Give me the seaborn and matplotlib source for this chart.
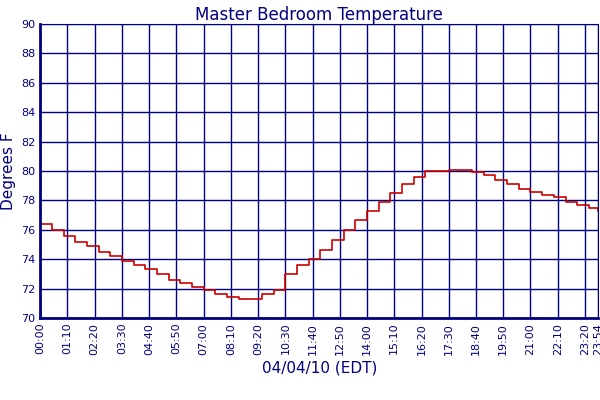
import pandas as pd
import seaborn as sns
import matplotlib.pyplot as plt

# Readings every 30 minutes (minutes after midnight), last one at 23:54
minutes = list(range(0, 1440, 30)) + [1434]
temps = [76.4, 76.0, 75.6, 75.2, 74.9, 74.5, 74.2, 73.9, 73.6, 73.3,
         73.0, 72.6, 72.4, 72.1, 71.9, 71.6, 71.4, 71.3, 71.3, 71.6,
         71.9, 73.0, 73.6, 74.0, 74.6, 75.3, 76.0, 76.7, 77.3, 77.9,
         78.5, 79.1, 79.6, 80.0, 80.0, 80.1, 80.1, 79.9, 79.7, 79.4,
         79.1, 78.8, 78.6, 78.4, 78.2, 77.9, 77.7, 77.5, 77.3]
tick_minutes = list(range(0, 1434, 70)) + [1434]
tick_labels = ["%02d:%02d" % (m // 60, m % 60) for m in tick_minutes]

# last half-hour slot (23:30) is followed by the 23:54 reading
df = pd.DataFrame({"minute": minutes[:len(temps)], "temp": temps})
df = df.sort_values("minute")
navy = "#000080"

fig, ax = plt.subplots(figsize=(6, 4), dpi=100)
sns.lineplot(data=df, x="minute", y="temp", ax=ax, color="#cc0000",
             drawstyle="steps-post", linewidth=1.2, label="MB Temp",
             sort=False)

ax.set_xlim(0, 1434)
ax.set_ylim(70, 90)
ax.set_xticks(tick_minutes)
ax.set_xticklabels(tick_labels, rotation=90, fontsize=8, color=navy)
ax.set_yticks(range(70, 91, 2))
ax.tick_params(axis="y", labelsize=8, labelcolor=navy)
ax.tick_params(length=0)
ax.grid(True, color=navy, linewidth=1)
for s in ax.spines.values():
    s.set_color(navy)
ax.spines["left"].set_linewidth(2)
ax.spines["bottom"].set_linewidth(2)

ax.set_title("Master Bedroom Temperature", color=navy, fontsize=12, pad=3)
ax.set_xlabel("04/04/10 (EDT)", color=navy, fontsize=11)
ax.set_ylabel("Degrees F", color=navy, fontsize=11)
ax.legend(loc="upper center", bbox_to_anchor=(0.5, -0.27), frameon=False,
          fontsize=8, handlelength=1, handletextpad=0.3, labelcolor=navy)

plt.subplots_adjust(left=0.067, right=0.997, top=0.94, bottom=0.205)
plt.savefig("out.png")
